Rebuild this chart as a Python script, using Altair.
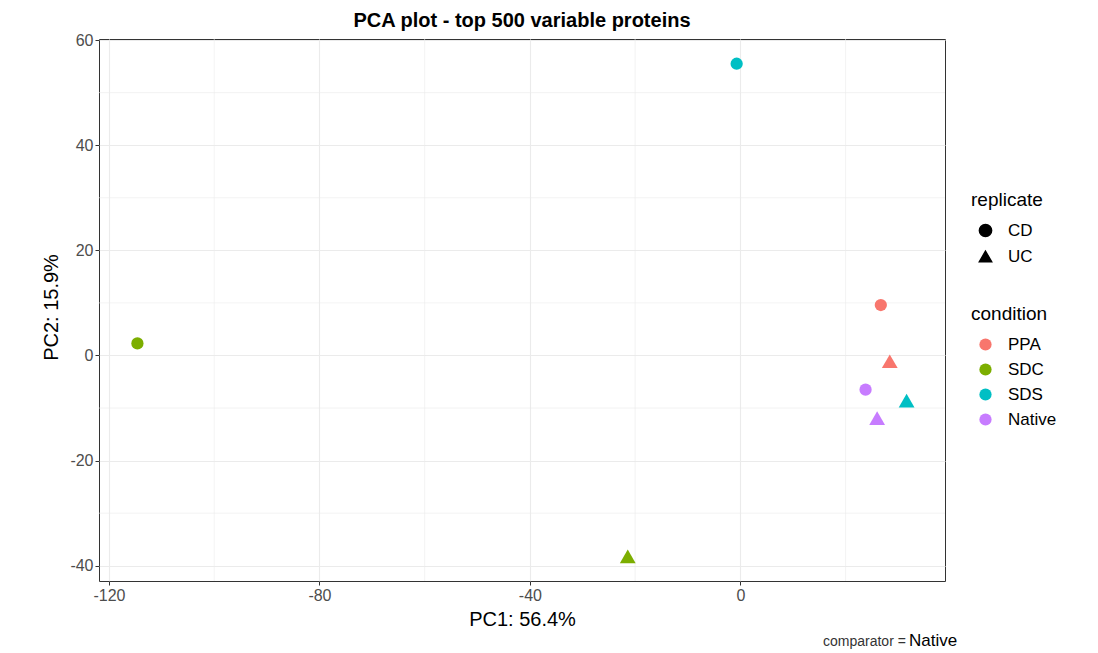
import altair as alt
import pandas as pd

# ---- data ----
condition = ["PPA", "PPA", "SDC", "SDC", "SDS", "SDS", "Native", "Native"]
replicate = ["CD", "UC", "CD", "UC", "CD", "UC", "CD", "UC"]
pc1 = [26.7, 28.4, -114.6, -21.4, -0.7, 31.6, 23.8, 26.0]
pc2 = [9.6, -1.1, 2.3, -38.2, 55.5, -8.6, -6.5, -11.9]

cond_order = ["PPA", "SDC", "SDS", "Native"]
cond_colors = ["#F8766D", "#7CAE00", "#00BFC4", "#C77CFF"]
rep_order = ["CD", "UC"]
rep_shapes = ["circle", "triangle-up"]
rep_sizes = [150, 250]

x_major = [-120, -80, -40, 0]
x_minor = [-100, -60, -20, 20]
y_major = [-40, -20, 0, 20, 40, 60]
y_minor = [-30, -10, 10, 30, 50]

x_domain = [-121.9, 38.9]
y_domain = [-42.9, 60.2]

df = pd.DataFrame({"PC1": pc1, "PC2": pc2, "condition": condition, "replicate": replicate})

FONT = "Liberation Sans"
W, H = 846, 542

xscale = alt.Scale(domain=x_domain, nice=False, zero=False)
yscale = alt.Scale(domain=y_domain, nice=False, zero=False)
xaxis = alt.Axis(values=x_major, title="PC1: 56.4%", titleX=W / 2, titleY=38,
                 titleAlign="center", titleBaseline="middle",
                 labelExpr="'' + datum.value")
yaxis = alt.Axis(values=y_major, title="PC2: 15.9%", titleX=-48, titleY=H / 2 - 3,
                 titleAlign="center", titleBaseline="middle", titleAngle=-90,
                 labelExpr="'' + datum.value")

xminor = alt.Chart(pd.DataFrame({"v": x_minor})).mark_rule(color="#EBEBEB", strokeWidth=0.6).encode(
    x=alt.X("v:Q", scale=xscale, axis=xaxis)
)
yminor = alt.Chart(pd.DataFrame({"v": y_minor})).mark_rule(color="#EBEBEB", strokeWidth=0.6).encode(
    y=alt.Y("v:Q", scale=yscale, axis=yaxis)
)

color_enc = alt.Color("condition:N", sort=cond_order,
                      scale=alt.Scale(domain=cond_order, range=cond_colors),
                      legend=alt.Legend(title="condition", orient="none", legendX=872, legendY=266,
                                        symbolType="circle"))
shape_enc = alt.Shape("replicate:N", sort=rep_order,
                      scale=alt.Scale(domain=rep_order, range=rep_shapes),
                      legend=alt.Legend(title="replicate", orient="none", legendX=872, legendY=152,
                                        symbolFillColor="black", symbolStrokeColor="black"))

point_layers = []
for rep, sz in zip(rep_order, rep_sizes):
    point_layers.append(
        alt.Chart(df).transform_filter(alt.datum.replicate == rep)
        .mark_point(filled=True, opacity=1, size=sz)
        .encode(
            x=alt.X("PC1:Q", scale=xscale, axis=xaxis),
            y=alt.Y("PC2:Q", scale=yscale, axis=yaxis),
            color=color_enc,
            shape=shape_enc,
        )
    )

cap1 = alt.Chart(pd.DataFrame({"t": ["comparator ="]})).mark_text(
    align="left", baseline="middle", fontSize=14, font=FONT, color="#333333"
).encode(x=alt.value(724), y=alt.value(603), text="t:N")
cap2 = alt.Chart(pd.DataFrame({"t": ["Native"]})).mark_text(
    align="left", baseline="middle", fontSize=17, font=FONT, color="black"
).encode(x=alt.value(810), y=alt.value(602), text="t:N")

chart = alt.layer(xminor, yminor, *point_layers, cap1, cap2).properties(
    width=W, height=H,
    title=alt.TitleParams("PCA plot - top 500 variable proteins", fontSize=20, fontWeight="bold",
                          anchor="middle", font=FONT, color="black", offset=1),
    autosize=alt.AutoSizeParams(type="none"),
    padding={"left": 91, "top": 31, "right": 140, "bottom": 72},
).configure_view(
    stroke="#333333", strokeWidth=1
).configure_axis(
    grid=True, gridColor="#EBEBEB", gridWidth=1.1, domain=False,
    tickColor="#333333", tickSize=4, labelFont=FONT, labelFontSize=16, labelColor="#4D4D4D",
    labelPadding=2, titleFont=FONT, titleFontSize=20, titleFontWeight="normal", titleColor="black",
).configure_legend(
    titleFont=FONT, titleFontSize=19, titleFontWeight="normal", titleColor="black",
    labelFont=FONT, labelFontSize=17, labelColor="black", symbolSize=150,
    rowPadding=7, titlePadding=12, labelOffset=14, symbolOffset=6, symbolOpacity=1,
)

chart.save("out.html", embed_options={"renderer": "svg", "actions": False})
